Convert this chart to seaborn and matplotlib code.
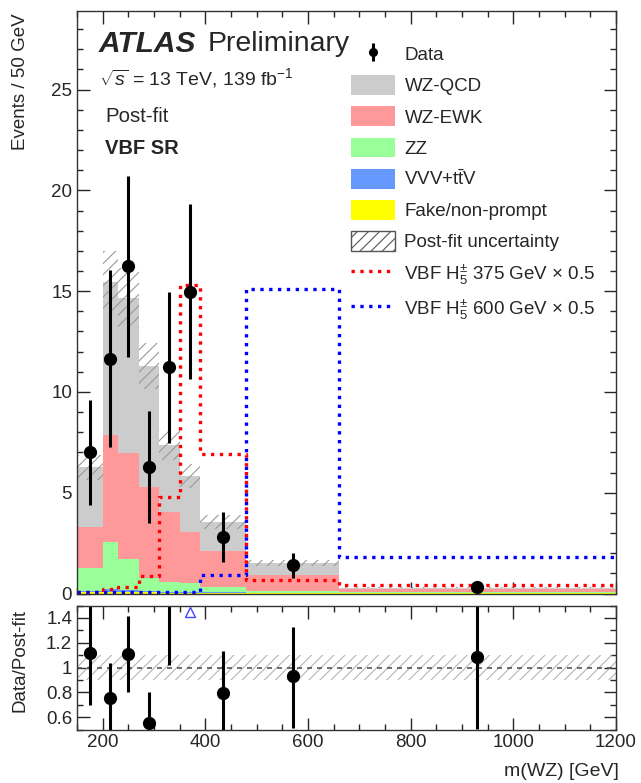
import numpy as np
import pandas as pd
import matplotlib
matplotlib.use('Agg')
import matplotlib.pyplot as plt
import seaborn as sns
from matplotlib.patches import Patch
from matplotlib.lines import Line2D
from matplotlib.ticker import MultipleLocator, FormatStrFormatter

# Binning of m(WZ) [GeV] (events normalised to 50 GeV)
edges = [150, 200, 230, 270, 310, 350, 390, 480, 660, 1200]

# Post-fit background components (Events / 50 GeV), per bin
fake = [0.05, 0.08, 0.08, 0.05, 0.04, 0.03, 0.02, 0.01, 0.005]
vvv = [0.05, 0.12, 0.10, 0.06, 0.05, 0.04, 0.03, 0.02, 0.005]
zz = [1.18, 2.34, 1.51, 0.64, 0.49, 0.43, 0.25, 0.07, 0.04]
wz_ewk = [2.03, 5.31, 5.27, 4.55, 3.48, 2.57, 1.80, 0.83, 0.17]
wz_qcd = [2.95, 7.61, 7.70, 6.00, 3.31, 2.76, 1.46, 0.59, 0.056]
unc_rel = [0.10, 0.10, 0.10, 0.10, 0.10, 0.10, 0.10, 0.10, 0.10]

# Data with asymmetric errors
data = [7.01, 11.65, 16.24, 6.26, 11.22, 14.98, 2.82, 1.41, 0.30]
data_up = [2.60, 4.39, 4.46, 2.77, 3.73, 4.32, 1.21, 0.61, 0.17]
data_dn = [2.62, 4.36, 4.51, 2.75, 3.73, 4.33, 1.25, 0.63, 0.16]

# Signals (x 0.5)
sig375 = [0.05, 0.2, 0.3, 0.85, 4.8, 15.3, 6.9, 0.68, 0.4]
sig600 = [0.05, 0.05, 0.05, 0.05, 0.05, 0.05, 0.9, 15.1, 1.8]

bin_list = list(edges)
edges = np.array(edges, dtype=float)
centers = 0.5 * (edges[:-1] + edges[1:])

components = [
    ('Fake/non-prompt', fake, '#ffff00'),
    ('VVV+t$\\bar{\\mathrm{t}}$V', vvv, '#6699ff'),
    ('ZZ', zz, '#99ff99'),
    ('WZ-EWK', wz_ewk, '#ff9999'),
    ('WZ-QCD', wz_qcd, '#cccccc'),
]
total = np.sum([np.array(c[1]) for c in components], axis=0)
unc = total * np.array(unc_rel)

sns.set_style('ticks')
plt.rcParams['font.family'] = ['Liberation Sans', 'DejaVu Sans']
plt.rcParams['mathtext.fontset'] = 'custom'
plt.rcParams['mathtext.rm'] = 'Liberation Sans'
plt.rcParams['mathtext.it'] = 'Liberation Sans:italic'
plt.rcParams['mathtext.bf'] = 'Liberation Sans:bold'
plt.rcParams['font.size'] = 13.5
plt.rcParams['hatch.linewidth'] = 0.8

W, H = 641, 783
fig = plt.figure(figsize=(6.41, 7.83), dpi=100)
ax = fig.add_axes([77 / W, 1 - 593.5 / H, 539 / W, 582.5 / H])
rax = fig.add_axes([77 / W, 1 - 729.5 / H, 539 / W, 124 / H])

# stacked backgrounds: draw cumulative sums, largest first
cum = np.cumsum([np.array(c[1]) for c in components], axis=0)
for i in range(len(components) - 1, -1, -1):
    df = pd.DataFrame({'x': centers, 'w': cum[i]})
    sns.histplot(data=df, x='x', weights='w', bins=bin_list, element='step',
                 fill=True, color=components[i][2], alpha=1, linewidth=0, ax=ax)

# post-fit uncertainty band
ext = lambda a: np.append(a, a[-1])
ax.fill_between(edges, ext(total - unc), ext(total + unc), step='post',
                facecolor='none', edgecolor='#9a9a9a', hatch='///', linewidth=0)

# signals
for vals, col in [(sig375, 'red'), (sig600, 'blue')]:
    df = pd.DataFrame({'x': centers, 'w': vals})
    sns.histplot(data=df, x='x', weights='w', bins=bin_list, element='step',
                 fill=False, color=col, linestyle=':', linewidth=2.4, ax=ax)

# data
eb = ax.errorbar(centers, data, yerr=[data_dn, data_up], fmt='o', color='black',
                 markersize=8.5, elinewidth=2.2, capsize=0)

ax.set_xlim(150, 1200)
ax.set_ylim(0, 28.9)
ax.set_xlabel('')
ax.set_ylabel('')
ax.tick_params(labelbottom=False)
ax.yaxis.set_major_locator(MultipleLocator(5))
ax.yaxis.set_minor_locator(MultipleLocator(1))

# ratio panel
ratio = np.array(data) / total
r_up = np.array(data_up) / total
r_dn = np.array(data_dn) / total
rel = np.array(unc_rel)
rax.fill_between(edges, ext(1 - rel), ext(1 + rel), step='post',
                 facecolor='none', edgecolor='#b5b5b5', hatch='///', linewidth=0)
rax.axhline(1, color='#555555', linestyle=(0, (3, 3)), linewidth=1.2)
rax.errorbar(centers, ratio, yerr=[r_dn, r_up], fmt='none', ecolor='black',
             elinewidth=2.2, capsize=0)
inside = (ratio > 0.5) & (ratio < 1.5)
rax.plot(centers[inside], ratio[inside], 'o', color='black', markersize=8.5)
off = (ratio - r_dn) > 1.5
rax.plot(centers[off], np.full(off.sum(), 1.45), marker='^', linestyle='none',
         markerfacecolor='none', markeredgecolor='#4444ff', markersize=7)
rax.set_xlim(150, 1200)
rax.set_ylim(0.5, 1.5)
rax.set_yticks([0.6, 0.8, 1.0, 1.2, 1.4])
rax.yaxis.set_major_formatter(FormatStrFormatter('%g'))
rax.yaxis.set_minor_locator(MultipleLocator(0.1))

for a in (ax, rax):
    a.xaxis.set_major_locator(MultipleLocator(200))
    a.xaxis.set_minor_locator(MultipleLocator(50))
    a.tick_params(which='both', direction='in', top=True, right=True, labelsize=13.5)
    a.tick_params(which='major', length=9, width=1)
    a.tick_params(which='minor', length=4.5, width=1)
    for s in a.spines.values():
        s.set_linewidth(1)
        s.set_color('#333333')

# texts
fig.text(99 / W, 1 - 44 / H, 'ATLAS', fontsize=21.5, fontweight='bold',
         fontstyle='italic', va='center')
fig.text(208 / W, 1 - 44 / H, 'Preliminary', fontsize=20.5, va='center')
fig.text(99 / W, 1 - 78 / H, '$\\sqrt{s}$ = 13 TeV, 139 fb$^{-1}$', fontsize=14, va='center')
fig.text(105 / W, 1 - 116 / H, 'Post-fit', fontsize=14.7, va='center')
fig.text(105 / W, 1 - 148 / H, 'VBF SR', fontsize=14.5, fontweight='bold', va='center')
fig.text(21 / W, 1 - 13 / H, 'Events / 50 GeV', rotation=90, ha='center', va='top')
fig.text(20 / W, 1 - 660 / H, 'Data/Post-fit', rotation=90, ha='center', va='center')
fig.text(619 / W, 1 - 780 / H, 'm(WZ) [GeV]', fontsize=14, ha='right', va='bottom')

# legend
handles = [eb,
           Patch(facecolor='#cccccc', edgecolor='none'),
           Patch(facecolor='#ff9999', edgecolor='none'),
           Patch(facecolor='#99ff99', edgecolor='none'),
           Patch(facecolor='#6699ff', edgecolor='none'),
           Patch(facecolor='#ffff00', edgecolor='none'),
           Patch(facecolor='white', edgecolor='#555555', hatch='///'),
           Line2D([], [], color='red', linestyle=':', linewidth=2.4),
           Line2D([], [], color='blue', linestyle=':', linewidth=2.4)]
labels = ['Data', 'WZ-QCD', 'WZ-EWK', 'ZZ', 'VVV+t$\\bar{\\mathrm{t}}$V', 'Fake/non-prompt',
          'Post-fit uncertainty', 'VBF H$_5^{\\pm}$ 375 GeV $\\times$ 0.5',
          'VBF H$_5^{\\pm}$ 600 GeV $\\times$ 0.5']
fig.legend(handles, labels, loc='upper left', bbox_to_anchor=(351 / W, 1 - 44 / H),
           frameon=False, fontsize=13.5, handlelength=2.35, handleheight=1.25,
           handletextpad=0.5, labelspacing=0.585, borderpad=0, borderaxespad=0,
           markerscale=0.65)

fig.savefig('out.png', dpi=100)
